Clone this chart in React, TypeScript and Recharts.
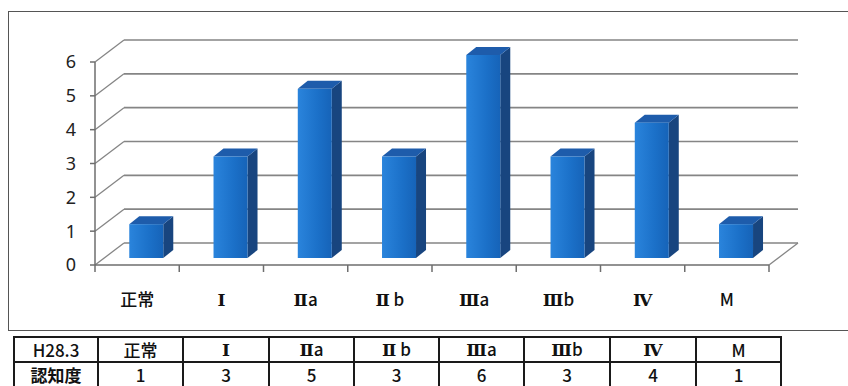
import React from 'react';
import { BarChart, Bar, XAxis, YAxis, CartesianGrid } from 'recharts';

const categories = ['正常', 'Ⅰ', 'Ⅱa', 'Ⅱ b', 'Ⅲa', 'Ⅲb', 'Ⅳ', 'M'];
const counts = [1, 3, 5, 3, 6, 3, 4, 1];
const yTicks = [0, 1, 2, 3, 4, 5, 6];
const rowHeader = 'H28.3';
const seriesName = '認知度';

const data = categories.map((name, i) => ({ name, value: counts[i] }));

// layout
const W = 848;
const H = 331;
const MARGIN = { top: 62, right: 79, left: 55, bottom: 16 };
const Y_W = 40;
const X_H = 50;
const PLOT_BOTTOM = H - MARGIN.bottom - X_H;
const PLOT_W = W - MARGIN.left - Y_W - MARGIN.right;
const BAND = PLOT_W / categories.length;

// fake 3d offsets
const WALL_DX = 29;
const WALL_DY = -22;
const BAR_DX = 9;
const BAR_DY = -7;
const DEPTH_X = 10;
const DEPTH_Y = -8;

const GRID = '#858585';
const AXIS = '#6e6e6e';
const ROMAN = /[\u2160-\u216B]/;
const SERIF = "'DejaVu Serif', serif";

const GridLine = (props: any) => {
  const { x1, y1, x2, y2, index } = props;
  const isFloor = Math.abs(y1 - PLOT_BOTTOM) < 1;
  return (
    <g key={`grid-${index}`}>
      <line x1={x1} y1={y1} x2={x1 + WALL_DX} y2={y1 + WALL_DY} stroke={GRID} strokeWidth={1.3} />
      <line
        x1={x1 + WALL_DX}
        y1={y1 + WALL_DY}
        x2={x2 + WALL_DX}
        y2={y2 + WALL_DY}
        stroke={GRID}
        strokeWidth={1.7}
      />
      {isFloor && (
        <line x1={x2} y1={y2} x2={x2 + WALL_DX} y2={y2 + WALL_DY} stroke={GRID} strokeWidth={1.3} />
      )}
    </g>
  );
};

const Bar3D = (props: any) => {
  const { x, y, width, height } = props;
  if (!height) return null;
  const fx = x + BAR_DX;
  const fy = y + BAR_DY;
  const side = `${fx + width},${fy} ${fx + width + DEPTH_X},${fy + DEPTH_Y} ${fx + width + DEPTH_X},${fy + height + DEPTH_Y} ${fx + width},${fy + height}`;
  const top = `${fx},${fy} ${fx + DEPTH_X},${fy + DEPTH_Y} ${fx + width + DEPTH_X},${fy + DEPTH_Y} ${fx + width},${fy}`;
  return (
    <g>
      <polygon points={side} fill="#18457f" />
      <polygon points={top} fill="#1e5cab" />
      <rect x={fx} y={fy} width={width} height={height} fill="url(#frontFace)" />
    </g>
  );
};

// roman numerals in a serif face, the rest in gothic (svg version)
const svgLabel = (label: string) =>
  Array.from(label).map((ch, i) =>
    ROMAN.test(ch) ? (
      <tspan key={i} fontFamily={SERIF} fontWeight={700}>
        {ch}
      </tspan>
    ) : (
      <tspan key={i}>{ch}</tspan>
    )
  );

// same for the html table
const htmlLabel = (label: string) =>
  Array.from(label).map((ch, i) =>
    ROMAN.test(ch) ? (
      <span key={i} style={{ fontFamily: SERIF, fontWeight: 700 }}>
        {ch}
      </span>
    ) : (
      <span key={i}>{ch}</span>
    )
  );

const CategoryTick = (props: any) => {
  const { x, payload, index } = props;
  const left = x - BAND / 2;
  const right = x + BAND / 2;
  return (
    <g>
      <line x1={left} y1={PLOT_BOTTOM} x2={left} y2={PLOT_BOTTOM + 7} stroke={AXIS} strokeWidth={1.5} />
      {index === categories.length - 1 && (
        <line x1={right} y1={PLOT_BOTTOM} x2={right} y2={PLOT_BOTTOM + 7} stroke={AXIS} strokeWidth={1.5} />
      )}
      <text
        x={x}
        y={PLOT_BOTTOM + 41}
        textAnchor="middle"
        fontSize={17}
        fontWeight={500}
        fill="#111"
        fontFamily="'Noto Sans CJK JP', sans-serif"
      >
        {svgLabel(payload.value)}
      </text>
    </g>
  );
};

const colWidths = [84, 85, 86, 85, 85, 85, 86, 86, 85];

const cellStyle: React.CSSProperties = {
  border: '2px solid #1a1a1a',
  padding: 0,
  height: 23,
  textAlign: 'center',
  fontSize: 17,
  lineHeight: '22px',
  fontWeight: 500,
  color: '#111',
};

export default function App() {
  return (
    <div
      style={{
        position: 'absolute',
        left: 0,
        top: 0,
        width: W,
        height: 386,
        overflow: 'hidden',
        background: '#fff',
        fontFamily: "'Noto Sans CJK JP', sans-serif",
      }}
    >
      {/* chart frame */}
      <div
        style={{
          position: 'absolute',
          left: 8,
          top: 11,
          width: 860,
          height: 320,
          border: '1.5px solid #555',
          boxSizing: 'border-box',
        }}
      />
      <div style={{ position: 'absolute', left: 0, top: 0 }}>
        <BarChart width={W} height={H} data={data} margin={MARGIN} barCategoryGap="30%">
          <defs>
            <linearGradient id="frontFace" x1="0" y1="0" x2="1" y2="0">
              <stop offset="0%" stopColor="#2a84dc" />
              <stop offset="60%" stopColor="#1b70c8" />
              <stop offset="100%" stopColor="#1663b8" />
            </linearGradient>
          </defs>
          <CartesianGrid vertical={false} horizontal={GridLine} />
          <XAxis
            dataKey="name"
            height={X_H}
            axisLine={{ stroke: AXIS, strokeWidth: 1.5 }}
            tickLine={false}
            tick={CategoryTick}
            interval={0}
          />
          <YAxis
            width={Y_W}
            domain={[0, 6]}
            ticks={yTicks}
            interval={0}
            axisLine={{ stroke: AXIS, strokeWidth: 1.5 }}
            tickLine={{ stroke: AXIS, strokeWidth: 1.5 }}
            tickSize={5}
            tickMargin={14}
            tick={{ fontSize: 18, fill: '#222', fontFamily: "'Noto Sans', sans-serif" }}
          />
          <Bar dataKey="value" shape={Bar3D} isAnimationActive={false} />
        </BarChart>
      </div>
      {/* data table */}
      <table
        style={{
          position: 'absolute',
          left: 13,
          top: 336,
          borderCollapse: 'collapse',
          tableLayout: 'fixed',
        }}
      >
        <colgroup>
          {colWidths.map((w, i) => (
            <col key={i} style={{ width: w }} />
          ))}
        </colgroup>
        <tbody>
          <tr>
            <td style={cellStyle}>{rowHeader}</td>
            {categories.map((c) => (
              <td key={c} style={cellStyle}>
                {htmlLabel(c)}
              </td>
            ))}
          </tr>
          <tr>
            <td style={{ ...cellStyle, fontWeight: 700 }}>{seriesName}</td>
            {counts.map((v, i) => (
              <td key={i} style={cellStyle}>
                {v}
              </td>
            ))}
          </tr>
        </tbody>
      </table>
    </div>
  );
}
